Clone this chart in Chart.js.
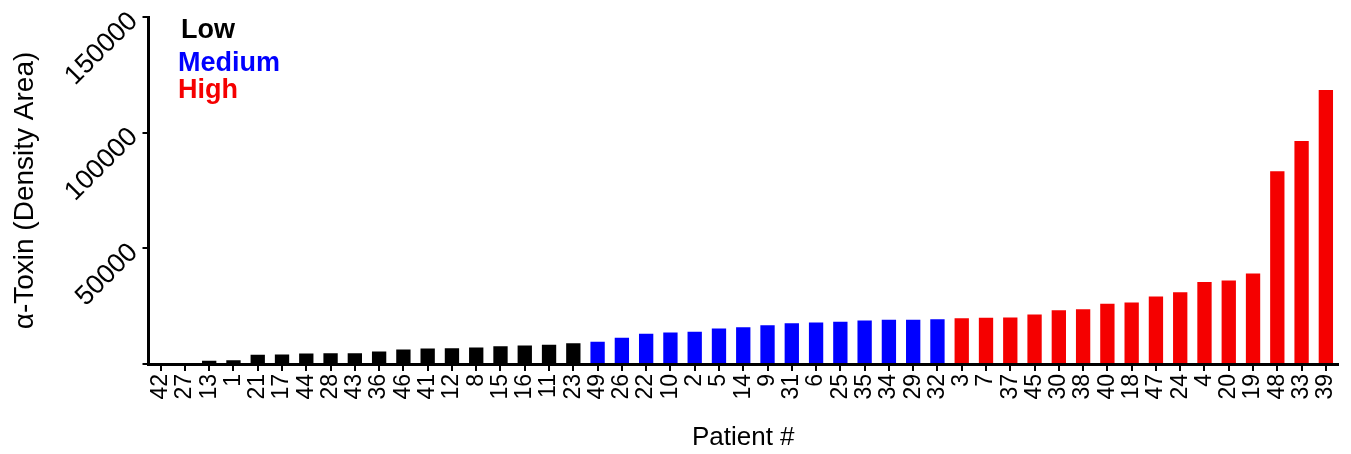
<!DOCTYPE html>
<html>
<head>
<meta charset="utf-8">
<style>
  html,body{margin:0;padding:0;background:#fff}
  #wrap{width:1351px;height:454px}
</style>
<script src="https://cdn.jsdelivr.net/npm/chart.js@4.4.1/dist/chart.umd.min.js"></script>
</head>
<body>
<div id="wrap"><canvas id="c" width="1351" height="454"></canvas></div>
<script>
/* alpha-toxin per patient, sorted, split in three tiers */
const lowPatients=['42','27','13','1','21','17','44','28','43','36','46','41','12','8','15','16','11','23'];
const lowValues=[0,0,1400,1650,4000,4100,4550,4650,4700,5400,6250,6700,6850,7100,7700,8000,8300,9000];
const mediumPatients=['49','26','22','10','2','5','14','9','31','6','25','35','34','29','32'];
const mediumValues=[9600,11300,13050,13600,13900,15300,15900,16750,17600,17900,18250,18800,19100,19100,19350];
const highPatients=['3','7','37','45','30','38','40','18','47','24','4','20','19','48','33','39'];
const highValues=[19800,19950,20100,21400,23250,23650,26000,26550,29150,31000,35500,36050,39100,83300,96400,118400];
const yTicks=[0,50000,100000,150000];

(function(){
  const FONT='"Liberation Sans", Arial, Helvetica, sans-serif';
  Chart.defaults.font.family=FONT;
  Chart.defaults.color='#000';

  const labels=lowPatients.concat(mediumPatients,highPatients);
  // each tier only fills its own slice of the category axis
  function slice(vals,start){return labels.map((_,i)=>(i>=start&&i<start+vals.length)?vals[i-start]:null);}
  const tiers=[
    {label:'Low',color:'#000000',data:slice(lowValues,0)},
    {label:'Medium',color:'#0000ff',data:slice(mediumValues,lowValues.length)},
    {label:'High',color:'#f50000',data:slice(highValues,lowValues.length+mediumValues.length)}
  ];

  // legend = coloured words only, top left of the plot
  const textLegend={id:'textLegend',afterDraw(chart,args,o){
    const ctx=chart.ctx;ctx.save();
    ctx.font='bold 27px '+FONT;ctx.textBaseline='alphabetic';ctx.textAlign='left';
    chart.data.datasets.forEach((d,i)=>{ctx.fillStyle=d.backgroundColor;ctx.fillText(d.label,o.x[i],o.y[i]);});
    ctx.restore();
  }};

  const axisGrid=len=>({display:true,drawOnChartArea:false,drawTicks:true,tickLength:len,color:'#000',lineWidth:2,offset:false});
  const axisBorder={display:true,color:'#000',width:3,z:1};

  new Chart(document.getElementById('c'),{
    type:'bar',
    data:{labels,datasets:tiers.map(t=>({label:t.label,data:t.data,backgroundColor:t.color,borderWidth:0,barPercentage:0.59,categoryPercentage:1}))},
    options:{
      responsive:false,animation:false,
      layout:{padding:{top:17,right:13,bottom:0,left:0}},
      plugins:{legend:{display:false},tooltip:{enabled:false},textLegend:{x:[181,178,178],y:[38,71,98]}},
      scales:{
        x:{stacked:true,offset:true,grid:axisGrid(7),border:axisBorder,
          ticks:{autoSkip:false,minRotation:90,maxRotation:90,padding:3,color:'#000',font:{size:23}},
          title:{display:true,text:'Patient #',color:'#000',font:{size:26},padding:{top:0,bottom:1}},
          afterFit:s=>{s.height=90;s.paddingLeft=0;s.paddingRight=0;}},
        y:{stacked:true,min:0,max:150000,grid:axisGrid(6),border:axisBorder,
          afterBuildTicks:s=>{s.ticks=yTicks.map(v=>({value:v}));},
          ticks:{minRotation:45,maxRotation:45,padding:9,color:'#000',font:{size:27},callback:v=>v===0?'':String(v)},
          title:{display:true,text:'α-Toxin (Density Area)',color:'#000',font:{size:28},padding:{top:8,bottom:0}},
          afterFit:s=>{s.width=148.5;s.paddingTop=0;s.paddingBottom=0;}}
      }
    },
    plugins:[textLegend]
  });
})();
</script>
</body>
</html>
